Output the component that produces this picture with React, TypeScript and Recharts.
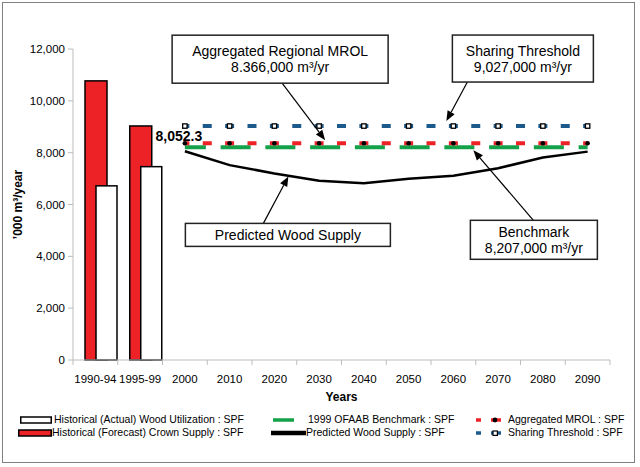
import React from 'react';
import { ComposedChart, Bar, Line, XAxis, YAxis, Legend, ReferenceDot, Label } from 'recharts';

const categories = ['1990-94', '1995-99', '2000', '2010', '2020', '2030', '2040', '2050', '2060', '2070', '2080', '2090'];
// historical bars (first two categories only)
const crownSupply = [10770, 9030];
const actualUtilization = [6720, 7460];
// projections, 2000 .. 2090
const predictedSupply = [8052.3, 7520, 7200, 6920, 6820, 6990, 7110, 7400, 7810, 8040];
const benchmark = 8207;
const mrol = 8366;
const sharingThreshold = 9027;
const yTicks = [0, 2000, 4000, 6000, 8000, 10000, 12000];

const RED = '#ec2227';
const GREEN = '#13a14a';
const BLUE = '#1d5a8c';
const AXIS = '#bdbdbd';
const FONT = '"Liberation Sans", Arial, sans-serif';
const TICK_SIZE = 5;
const TICK_MARGIN = 10;
const CHART_W = 640;
const CHART_H = 467;
const MARGIN = { top: 49, right: 30, bottom: 66, left: 0 };
const XAXIS_H = 41;
const Y_AXIS_W = 73;
const LEGEND_TOP = 413;

const FIRST_FUTURE = 2;

const data = categories.map((cat, i) => {
  const j = i - FIRST_FUTURE;
  const future = j >= 0;
  return {
    cat,
    crown: crownSupply[i] ?? null,
    actual: actualUtilization[i] ?? null,
    predicted: future ? predictedSupply[j] : null,
    benchmark: future ? benchmark : null,
    mrol: future ? mrol : null,
    sharing: future ? sharingThreshold : null,
  };
});

const fmt = (v: number) => v.toLocaleString('en-US');

// Excel puts category ticks between the categories
function XTick(props: any) {
  const { x, y, payload, index, visibleTicksCount } = props;
  const half = payload?.offset ?? 22.4;
  const axisY = y - TICK_SIZE - TICK_MARGIN;
  return (
    <g>
      <line x1={x - half} x2={x - half} y1={axisY} y2={axisY + TICK_SIZE} stroke={AXIS} />
      {index === visibleTicksCount - 1 && (
        <line x1={x + half} x2={x + half} y1={axisY} y2={axisY + TICK_SIZE} stroke={AXIS} />
      )}
      <text x={x} y={y} dy="0.71em" textAnchor="middle" fontSize={11.5} fill="#000">
        {payload.value}
      </text>
    </g>
  );
}

// bars sit to the right of the category centre in the original
function ShiftedBar(props: any) {
  const { x, y, width, height, fill } = props;
  if (!height || height <= 0) return <g />;
  return <rect x={x + 6} y={y} width={width} height={height} fill={fill} stroke="#000" strokeWidth={1.5} />;
}

function RoundDot(props: any) {
  const { cx, cy } = props;
  if (cx == null || cy == null) return <g />;
  return <circle cx={cx} cy={cy} r={2.3} fill="#000" />;
}

function SquareDot(props: any) {
  const { cx, cy } = props;
  if (cx == null || cy == null) return <g />;
  return <rect x={cx - 2.2} y={cy - 2.2} width={4.4} height={4.4} fill="#fff" stroke="#000" strokeWidth={1.3} />;
}

function FirstValueLabel(props: any) {
  const { x, y, value, index } = props;
  if (index !== FIRST_FUTURE || value == null) return null;
  return (
    <text x={x - 6} y={y - 10} textAnchor="middle" fontSize={14} fontWeight="bold" fill="#000">
      {fmt(value)}
    </text>
  );
}

type CalloutSpec = {
  x: string;
  y: number;
  lines: string[];
  box: [number, number, number, number];
  from: [number, number];
  tip: [number, number];
};

const callouts: CalloutSpec[] = [
  { x: '2030', y: mrol, lines: ['Aggregated Regional MROL', '8.366,000 m³/yr'], box: [-147, -108, 216, 48], from: [-37, -60], tip: [6, -3] },
  { x: '2060', y: sharingThreshold, lines: ['Sharing Threshold', '9,027,000 m³/yr'], box: [-1, -91, 141, 47], from: [14, -44], tip: [-7, -5] },
  { x: '2020', y: predictedSupply[2], lines: ['Predicted Wood Supply'], box: [-89, 50, 205, 23], from: [-11, 50], tip: [14, 3] },
  { x: '2060', y: benchmark, lines: ['Benchmark', '8,207,000 m³/yr'], box: [17, 73, 127, 39], from: [80, 73], tip: [20, 3] },
];

function Callout({ cx, cy, c }: { cx: number; cy: number; c: CalloutSpec }) {
  if (cx == null || cy == null) return <g />;
  const [bx, by, bw, bh] = c.box;
  const x1 = cx + c.from[0];
  const y1 = cy + c.from[1];
  const x2 = cx + c.tip[0];
  const y2 = cy + c.tip[1];
  const ang = Math.atan2(y2 - y1, x2 - x1);
  const len = 10;
  const hw = 4;
  const bxp = x2 - len * Math.cos(ang);
  const byp = y2 - len * Math.sin(ang);
  const head = [
    [x2, y2],
    [bxp + hw * Math.sin(ang), byp - hw * Math.cos(ang)],
    [bxp - hw * Math.sin(ang), byp + hw * Math.cos(ang)],
  ]
    .map((p) => p.join(','))
    .join(' ');
  const midY = cy + by + bh / 2;
  const n = c.lines.length;
  return (
    <g>
      <line x1={x1} y1={y1} x2={bxp} y2={byp} stroke="#000" strokeWidth={1.2} />
      <polygon points={head} fill="#000" />
      <rect x={cx + bx} y={cy + by} width={bw} height={bh} fill="#fff" stroke="#222" strokeWidth={1.5} />
      {c.lines.map((t, i) => (
        <text
          key={i}
          x={cx + bx + bw / 2}
          y={midY + (i - (n - 1) / 2) * 16}
          textAnchor="middle"
          dominantBaseline="central"
          fontSize={14}
          fill="#000"
        >
          {t}
        </text>
      ))}
    </g>
  );
}

type LegendSpec = { label: string; left: number; textLeft: number; row: number; swatch: React.ReactNode };

const legendItems: LegendSpec[] = [
  {
    label: 'Historical (Actual) Wood Utilization : SPF', left: 20, textLeft: 54, row: 0,
    swatch: <svg width={32} height={8}><rect x={0.75} y={1} width={30.5} height={6} fill="#fff" stroke="#000" strokeWidth={1.5} /></svg>,
  },
  {
    label: 'Historical (Forecast) Crown Supply : SPF', left: 18, textLeft: 52, row: 1,
    swatch: <svg width={34} height={8}><rect x={0.75} y={1} width={32.5} height={6} fill={RED} stroke="#000" strokeWidth={1.5} /></svg>,
  },
  {
    label: '1999 OFAAB Benchmark : SPF', left: 273, textLeft: 308, row: 0,
    swatch: <svg width={21} height={8}><line x1={0} x2={21} y1={4} y2={4} stroke={GREEN} strokeWidth={3.5} /></svg>,
  },
  {
    label: 'Predicted Wood Supply : SPF', left: 271, textLeft: 306, row: 1,
    swatch: <svg width={35} height={8}><line x1={0} x2={35} y1={4} y2={4} stroke="#000" strokeWidth={4.5} strokeLinecap="round" /></svg>,
  },
  {
    label: 'Aggregated MROL : SPF', left: 476, textLeft: 508, row: 0,
    swatch: (
      <svg width={26} height={8}>
        <line x1={0} x2={5} y1={4} y2={4} stroke={RED} strokeWidth={3.5} />
        <line x1={15} x2={25} y1={4} y2={4} stroke={RED} strokeWidth={3.5} />
        <circle cx={19} cy={4} r={2.4} fill="#000" />
      </svg>
    ),
  },
  {
    label: 'Sharing Threshold : SPF', left: 476, textLeft: 508, row: 1,
    swatch: (
      <svg width={26} height={8}>
        <line x1={0} x2={5} y1={4} y2={4} stroke={BLUE} strokeWidth={3.5} />
        <line x1={15} x2={25} y1={4} y2={4} stroke={BLUE} strokeWidth={3.5} />
        <rect x={17} y={2} width={4.4} height={4.4} fill="#fff" stroke="#000" strokeWidth={1.2} />
      </svg>
    ),
  },
];

function LegendBox() {
  return (
    <div style={{ position: 'relative', width: CHART_W, height: 28, fontFamily: FONT, fontSize: 10.5, color: '#000' }}>
      {legendItems.map((it) => (
        <React.Fragment key={it.label}>
          <div style={{ position: 'absolute', left: it.left, top: it.row * 13, height: 13, display: 'flex', alignItems: 'center' }}>
            {it.swatch}
          </div>
          <div style={{ position: 'absolute', left: it.textLeft, top: it.row * 13, height: 13, lineHeight: '13px', whiteSpace: 'nowrap' }}>
            {it.label}
          </div>
        </React.Fragment>
      ))}
    </div>
  );
}

export default function App() {
  return (
    <div style={{ position: 'absolute', left: 0, top: 0, width: CHART_W, height: CHART_H, background: '#fff', fontFamily: FONT }}>
      <ComposedChart
        width={CHART_W}
        height={CHART_H}
        data={data}
        margin={MARGIN}
        barGap={-11}
        style={{ fontFamily: FONT }}
      >
        <XAxis
          dataKey="cat"
          interval={0}
          height={XAXIS_H}
          stroke={AXIS}
          tickLine={false}
          tickSize={TICK_SIZE}
          tickMargin={TICK_MARGIN}
          tick={<XTick />}
          label={{ value: 'Years', position: 'insideBottom', offset: 0, fontSize: 12, fontWeight: 'bold', fill: '#000' }}
        />
        <YAxis
          width={Y_AXIS_W}
          domain={[0, 12000]}
          ticks={yTicks}
          interval={0}
          stroke={AXIS}
          tickSize={TICK_SIZE}
          tickMargin={3}
          tick={{ fontSize: 11.5, fill: '#000' }}
          tickFormatter={fmt}
        >
          <Label
            content={({ viewBox }: any) => {
              const lx = viewBox.x + 18;
              const ly = viewBox.y + viewBox.height / 2;
              return (
                <text
                  x={lx}
                  y={ly}
                  transform={`rotate(-90 ${lx} ${ly})`}
                  textAnchor="middle"
                  dominantBaseline="central"
                  fontSize={12}
                  fontWeight="bold"
                  fill="#000"
                >
                  ’000 m³/year
                </text>
              );
            }}
          />
        </YAxis>
        <Bar dataKey="crown" name="Historical (Forecast) Crown Supply : SPF" fill={RED} barSize={22} shape={ShiftedBar} isAnimationActive={false} />
        <Bar dataKey="actual" name="Historical (Actual) Wood Utilization : SPF" fill="#fff" barSize={21} shape={ShiftedBar} isAnimationActive={false} />
        <Line
          dataKey="benchmark"
          name="1999 OFAAB Benchmark : SPF"
          type="linear"
          stroke={GREEN}
          strokeWidth={4}
          strokeDasharray="30 14.75"
          strokeDashoffset={9}
          dot={false}
          activeDot={false}
          isAnimationActive={false}
        />
        <Line
          dataKey="mrol"
          name="Aggregated MROL : SPF"
          type="linear"
          stroke={RED}
          strokeWidth={4}
          strokeDasharray="9 13.375"
          strokeDashoffset={4.5}
          dot={<RoundDot />}
          activeDot={false}
          isAnimationActive={false}
        />
        <Line
          dataKey="sharing"
          name="Sharing Threshold : SPF"
          type="linear"
          stroke={BLUE}
          strokeWidth={4}
          strokeDasharray="9 13.375"
          strokeDashoffset={4.5}
          dot={<SquareDot />}
          activeDot={false}
          isAnimationActive={false}
        />
        <Line
          dataKey="predicted"
          name="Predicted Wood Supply : SPF"
          type="linear"
          stroke="#000"
          strokeWidth={2.5}
          dot={false}
          activeDot={false}
          label={<FirstValueLabel />}
          isAnimationActive={false}
        />
        {callouts.map((c, i) => (
          <ReferenceDot
            key={i}
            x={c.x}
            y={c.y}
            r={0}
            ifOverflow="visible"
            shape={(p: any) => <Callout cx={p.cx} cy={p.cy} c={c} />}
          />
        ))}
        <Legend
          verticalAlign="middle"
          align="center"
          layout="horizontal"
          wrapperStyle={{ top: LEGEND_TOP, left: 0, width: CHART_W, height: 28 }}
          content={() => <LegendBox />}
        />
      </ComposedChart>
      <div
        style={{
          position: 'absolute',
          left: 2,
          top: 2,
          width: 631,
          height: 459,
          border: '1px solid #808080',
          pointerEvents: 'none',
        }}
      />
    </div>
  );
}
